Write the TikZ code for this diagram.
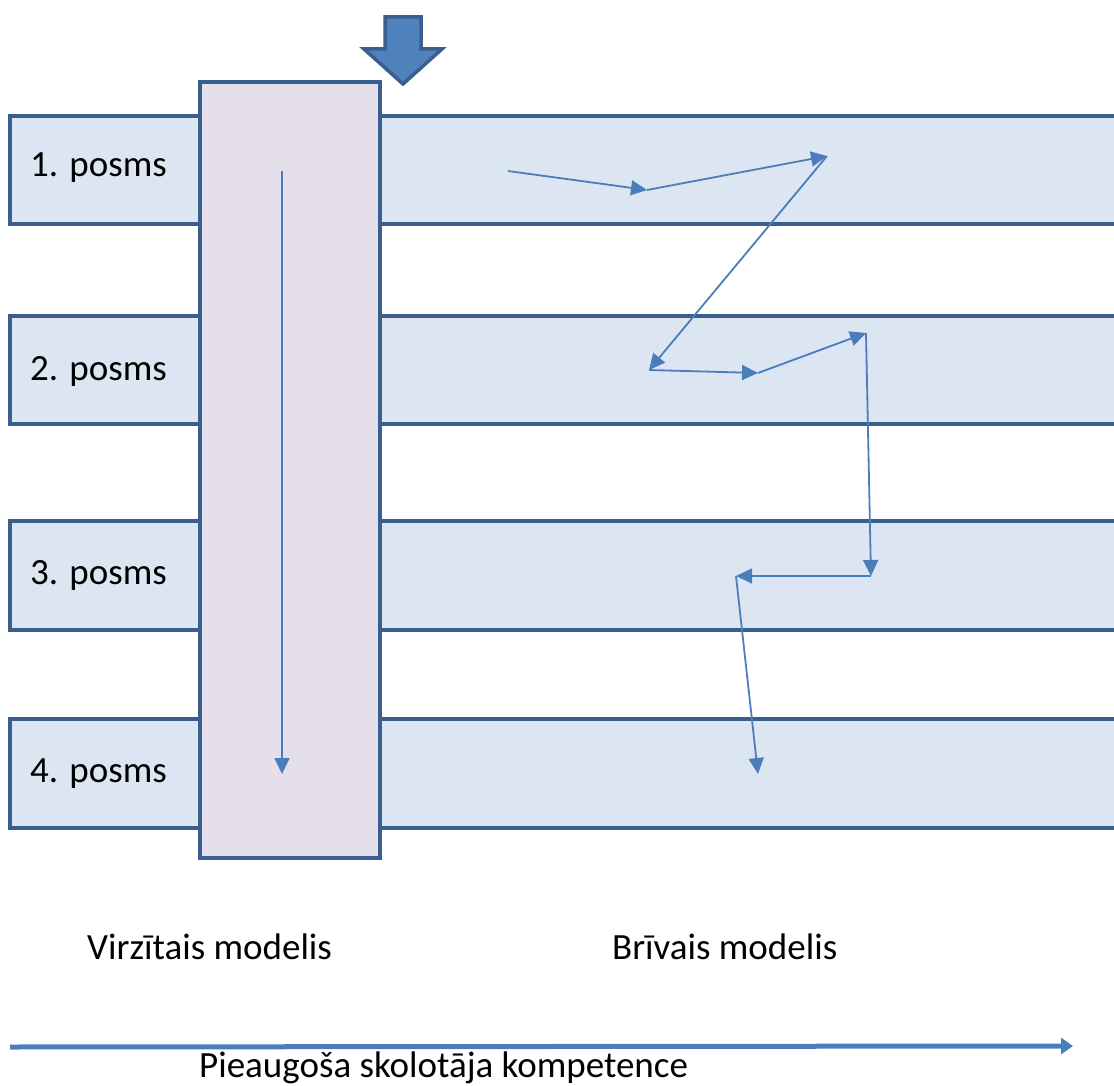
\documentclass[tikz,border=0pt]{standalone}
\usepackage{fontspec}
\setmainfont{Carlito}
\usetikzlibrary{arrows.meta}
\definecolor{rowfill}{HTML}{DCE6F2}
\definecolor{colfill}{HTML}{E5DFEC}
\definecolor{edge}{HTML}{3A5F8F}
\definecolor{arr}{HTML}{4A7EBB}
\definecolor{bigarr}{HTML}{4F81BD}
\tikzset{
  rowbox/.style={draw=edge, fill=rowfill, line width=4.5pt},
  colbox/.style={draw=edge, fill=colfill, line width=4.5pt},
  flow/.style={draw=arr, line width=1.8pt, -{Triangle[length=16pt,width=15pt]}},
  lbl/.style={font=\fontsize{37}{40}\selectfont, inner sep=0pt, anchor=base west},
}
\begin{document}
\begin{tikzpicture}[x=1pt,y=-1pt]
\useasboundingbox (0,0) rectangle (1114,1086);
\clip (0,0) rectangle (1114,1086);
% rows
\draw[rowbox] (10,116) rectangle (1130,224);
\draw[rowbox] (10,316) rectangle (1130,424);
\draw[rowbox] (10,521) rectangle (1130,630);
\draw[rowbox] (10,719) rectangle (1130,828);
% column
\node[colbox, minimum width=180pt, minimum height=776pt, inner sep=0pt] (col) at (290,470) {};
% labels
\node[lbl] (l1) at (30,177) {1. posms};
\node[lbl] (l2) at (30,380) {2. posms};
\node[lbl] (l3) at (30,584) {3. posms};
\node[lbl] (l4) at (30,782) {4. posms};
\node[lbl] (vm) at (87,959) {Virzītais modelis};
\node[lbl] (bm) at (612,959) {Brīvais modelis};
\node[lbl] (pk) at (199,1077) {Pieaugoša skolotāja kompetence};
% directed model arrow
\coordinate (d0) at (282,171);
\coordinate (d1) at (282,774);
\draw[flow] (d0) -- (d1);
% free model path
\coordinate (p0) at (508,171);
\coordinate (p1) at (647,190);
\coordinate (p2) at (827,156);
\coordinate (p3) at (649,370);
\coordinate (p4) at (758,373);
\coordinate (p5) at (866,333);
\coordinate (p6) at (871,576);
\coordinate (p7) at (736,576);
\coordinate (p8) at (758,774);
\draw[flow] (p0) -- (p1);
\draw[flow] (p1) -- (p2);
\draw[flow] (p2) -- (p3);
\draw[flow] (p3) -- (p4);
\draw[flow] (p4) -- (p5);
\draw[flow] (p5) -- (p6);
\draw[flow] (p6) -- (p7);
\draw[flow] (p7) -- (p8);
% competence arrow
\coordinate (c0) at (10,1047);
\coordinate (c1) at (1073,1046);
\draw[draw=arr, line width=5pt, -{Triangle[length=12pt,width=16pt]}] (c0) -- (c1);
% top down arrow
\draw[draw=edge, fill=bigarr, line width=3.5pt, line join=miter]
  (385,17) -- (421,17) -- (421,49) -- (442,49) -- (403,84) -- (364,49) -- (385,49) -- cycle;
\end{tikzpicture}
\end{document}
